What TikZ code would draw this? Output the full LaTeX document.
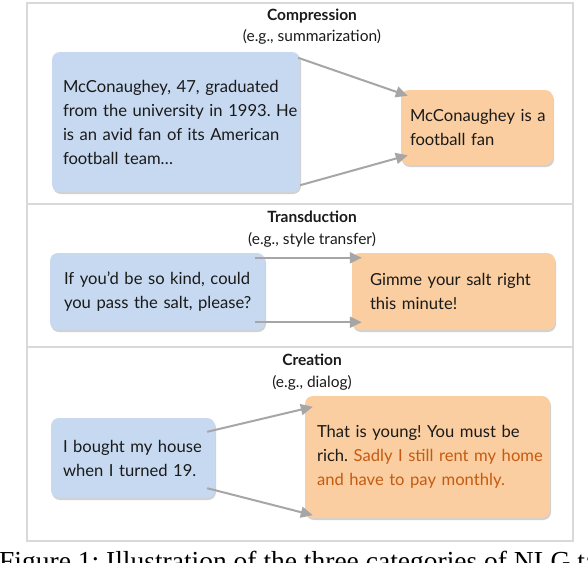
\documentclass[tikz,border=0pt]{standalone}
\usepackage{fontspec}
\setmainfont{Lato}
\newfontfamily\capfont{Liberation Serif}
\usetikzlibrary{arrows.meta,shadows}
\definecolor{bluebox}{RGB}{198,217,240}
\definecolor{orangebox}{RGB}{250,206,160}
\definecolor{redtext}{RGB}{197,90,17}
\definecolor{framegray}{RGB}{217,217,217}
\definecolor{arrowgray}{RGB}{166,166,166}
\definecolor{inktext}{RGB}{26,26,26}
\frenchspacing
\newcommand{\bodysize}{\fontsize{16.6}{24}\selectfont}
\tikzset{
  frameline/.style={draw=framegray, line width=2pt},
  titletext/.style={font=\bfseries\fontsize{15.5}{18}\selectfont, text=inktext, inner sep=0pt},
  subtext/.style={font=\fontsize{15.5}{18}\selectfont, text=inktext, inner sep=0pt},
  textbox/.style={rounded corners=8pt, inner ysep=0pt, align=left, text=inktext,
    font=\bodysize, drop shadow={shadow xshift=1pt, shadow yshift=-2pt, opacity=0.18, fill=black}},
  srcbox/.style={textbox, fill=bluebox},
  tgtbox/.style={textbox, fill=orangebox},
  flow/.style={draw=arrowgray, line width=2pt, -{Triangle[length=12pt,width=11pt]}},
}
\begin{document}
\begin{tikzpicture}[x=1pt,y=-1pt]
\useasboundingbox (0,0) rectangle (588,562);
% frame
\draw[frameline] (27,3) rectangle (573,541);
\draw[frameline] (27,204) -- (573,204);
\draw[frameline] (27,347) -- (573,347);
% titles
\node[titletext] (t1) at (312,16) {Compression};
\node[subtext] (s1) at (312,37) {(e.g., summarization)};
\node[titletext] (t2) at (312,217) {Transduction};
\node[subtext] (s2) at (312,240) {(e.g., style transfer)};
\node[titletext] (t3) at (312,360) {Creation};
\node[subtext] (s3) at (312,383) {(e.g., dialog)};
% boxes
\node[srcbox, inner xsep=11pt, text width=226pt, minimum height=140pt] (b1) at (176,122)
  {\mbox{McConaughey, 47, graduated}\\ \mbox{from the university in 1993. He}\\ \mbox{is an avid fan of its American}\\ \mbox{football team…}};
\node[tgtbox, inner xsep=9pt, text width=134pt, minimum height=75pt] (o1) at (477,127.5)
  {\mbox{McConaughey is a}\\ \mbox{football fan}};
\node[srcbox, inner xsep=14pt, text width=187pt, minimum height=77pt] (b2) at (157.5,291.5)
  {\mbox{If you’d be so kind, could}\\ \mbox{you pass the salt, please?}};
\node[tgtbox, inner xsep=18pt, text width=167pt, minimum height=77pt] (o2) at (453.5,291.5)
  {\mbox{Gimme your salt right}\\ \mbox{this minute!}};
\node[srcbox, inner xsep=12pt, text width=140pt, minimum height=80pt] (b3) at (133,458)
  {\mbox{I bought my house}\\ \mbox{when I turned 19.}};
\node[tgtbox, inner xsep=12pt, text width=221pt, minimum height=122pt] (o3) at (427.5,457)
  {\mbox{That is young! You must be}\\ \mbox{rich. \textcolor{redtext}{Sadly I still rent my home}}\\ \mbox{\textcolor{redtext}{and have to pay monthly.}}};
% arrows
\draw[flow] ([xshift=-2pt,yshift=-6pt]b1.north east) -- ([xshift=7pt,yshift=-6pt]o1.north west);
\draw[flow] ([xshift=0pt,yshift=7pt]b1.south east) -- ([xshift=7pt,yshift=10pt]o1.south west);
\draw[flow] ([xshift=-10pt,yshift=-5pt]b2.north east) -- ([xshift=10pt,yshift=-5pt]o2.north west);
\draw[flow] ([xshift=-10pt,yshift=8pt]b2.south east) -- ([xshift=10pt,yshift=8pt]o2.south west);
\draw[flow] ([xshift=-8pt,yshift=-14pt]b3.north east) -- ([xshift=8pt,yshift=-11pt]o3.north west);
\draw[flow] ([xshift=-8pt,yshift=10pt]b3.south east) -- ([xshift=8pt,yshift=3pt]o3.south west);
% caption (cut off at the bottom edge, as in the reference)
\begin{scope}
\clip (0,0) rectangle (588,562);
\node[anchor=base west, font=\capfont\fontsize{27.5}{30}\selectfont, inner sep=0pt, text=black] (cap) at (-1,570)
  {Figure 1: Illustration of the three categories of NLG tasks};
\end{scope}
\end{tikzpicture}
\end{document}
